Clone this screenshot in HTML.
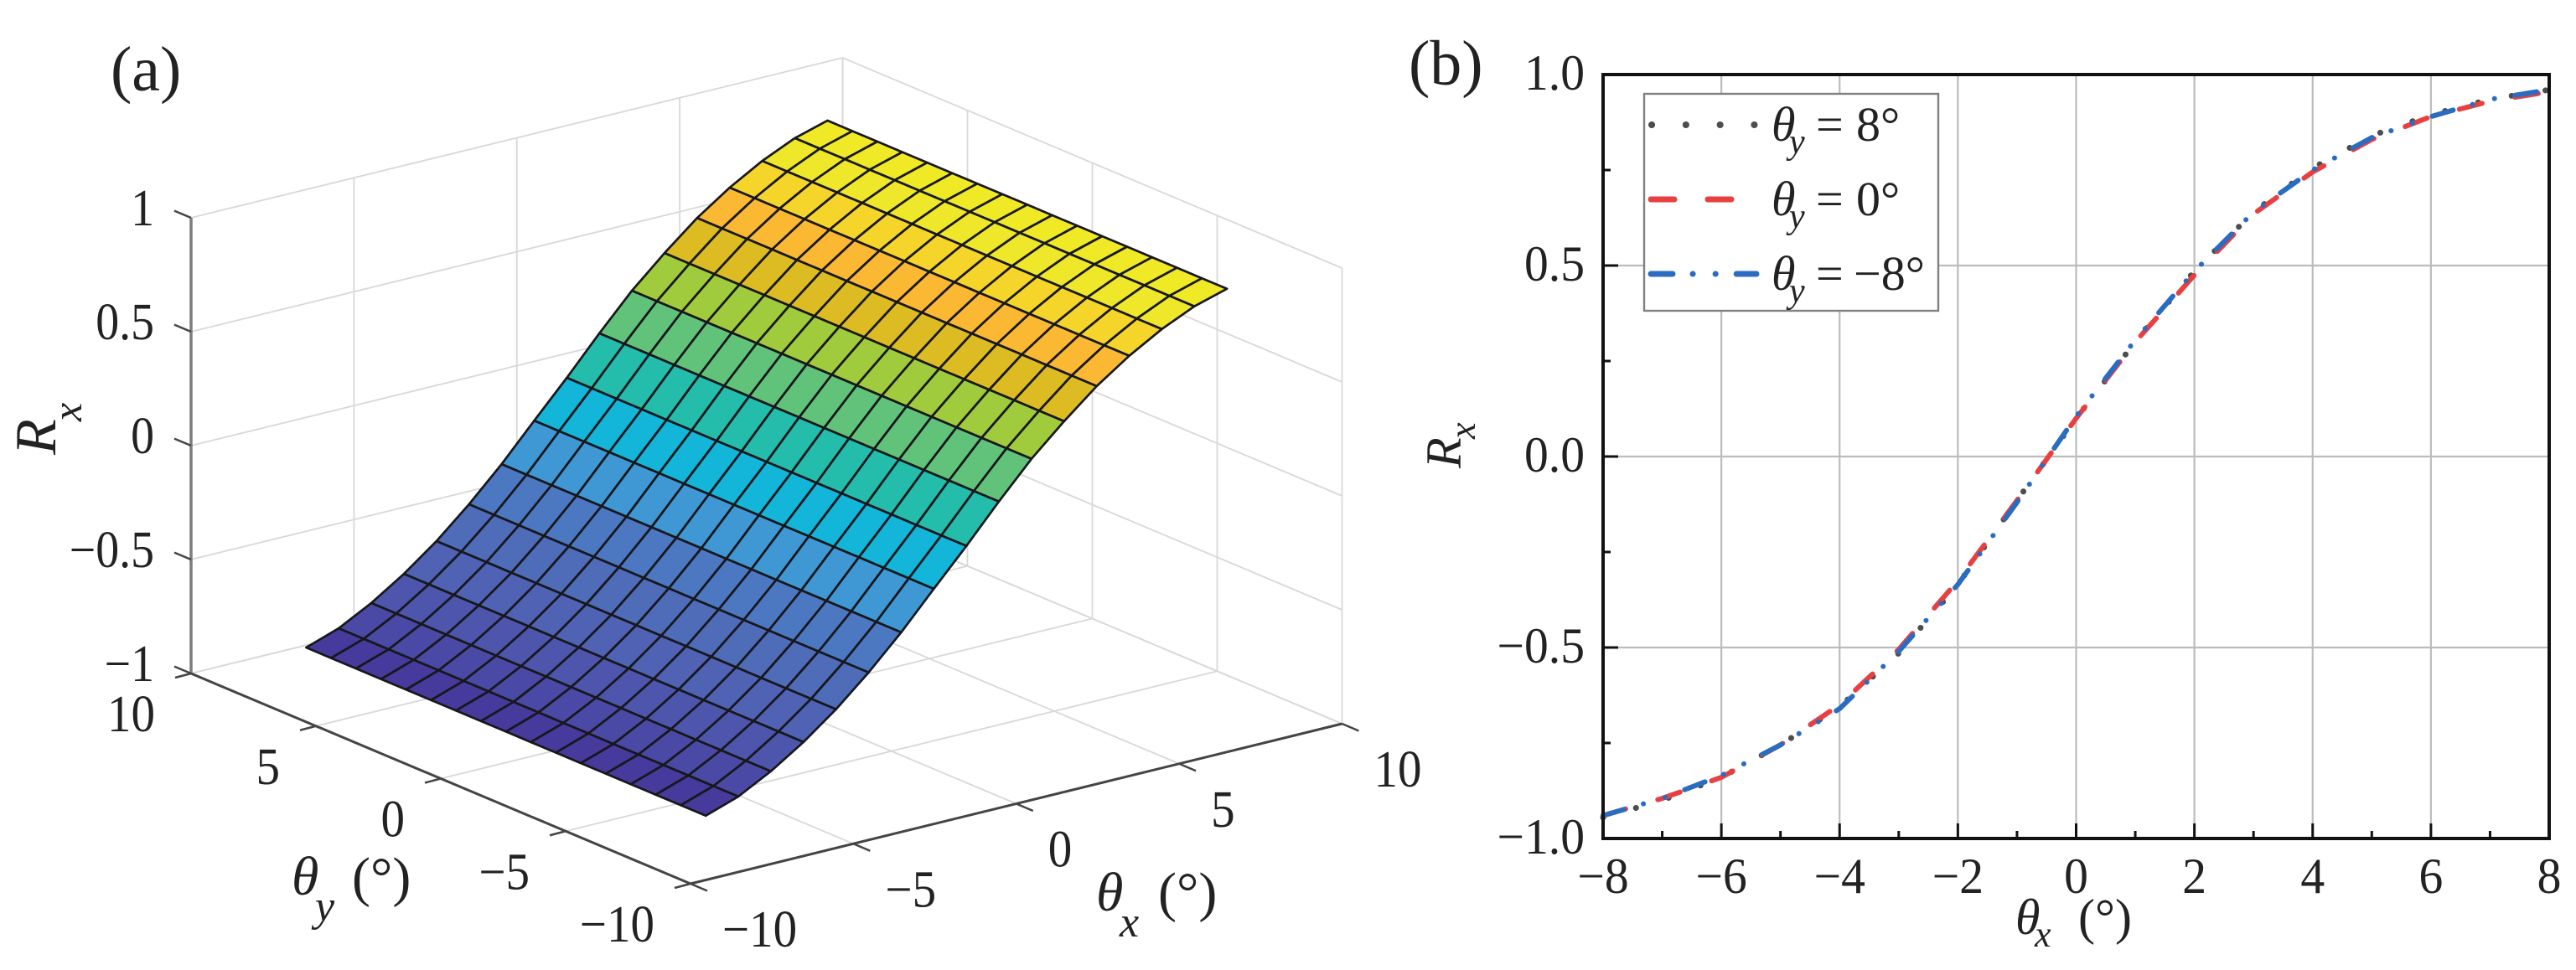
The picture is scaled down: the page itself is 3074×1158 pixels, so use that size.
<!DOCTYPE html>
<html lang="en">
<head>
<meta charset="utf-8">
<title>Rx surface and curves</title>
<style>
html,body{margin:0;padding:0;background:#fff;}
svg{display:block;}
text{font-family:"Liberation Serif",serif;fill:#222;}
.it{font-style:italic;}
</style>
</head>
<body>
<svg id="fig" xmlns="http://www.w3.org/2000/svg" width="3074" height="1158" viewBox="0 0 3074 1158">
  <rect x="0" y="0" width="3074" height="1158" fill="#fff"/>
  <g id="panelA"></g>
  <g id="panelB"></g>

  <text x="132" y="108" font-size="76">(a)</text>
  <text x="1681" y="101" font-size="76">(b)</text>

  <g>
    <text class="it" x="0" y="0" font-size="70" transform="translate(66,543) rotate(-90)">R</text>
    <text class="it" x="0" y="0" font-size="50" transform="translate(97,503) rotate(-90)">x</text>
  </g>
  <g>
    <text class="it" x="348" y="1068" font-size="66">θ</text>
    <text class="it" x="376" y="1099" font-size="52">y</text>
    <text x="420" y="1069" font-size="66">(°)</text>
  </g>
  <g>
    <text class="it" x="1308" y="1087" font-size="66">θ</text>
    <text class="it" x="1336" y="1118" font-size="52">x</text>
    <text x="1382" y="1087" font-size="66">(°)</text>
  </g>
  <g>
    <text class="it" x="0" y="0" font-size="60" transform="translate(1743,559) rotate(-90)">R</text>
    <text class="it" x="0" y="0" font-size="44" transform="translate(1760,524) rotate(-90)">x</text>
  </g>
  <g>
    <text class="it" x="2405" y="1115" font-size="60">θ</text>
    <text class="it" x="2428" y="1130" font-size="44">x</text>
    <text x="2480" y="1115" font-size="60">(°)</text>
  </g>

  <g id="legend">
    <rect x="1962" y="112" width="351" height="259" fill="#fff" stroke="#808080" stroke-width="2.4"/>
    <g>
      <line x1="1971" y1="149" x2="2098" y2="149" stroke="#4d4d4d" stroke-width="8" stroke-linecap="round" stroke-dasharray="0.1 40.7"/>
      <text class="it" x="2114" y="168" font-size="58">θ</text>
      <text class="it" x="2135" y="183" font-size="42">y</text>
      <text x="2167" y="168" font-size="58">=</text>
      <text x="2215" y="168" font-size="58">8°</text>
    </g>
    <g>
      <line x1="1970" y1="238" x2="2068" y2="238" stroke="#e84040" stroke-width="7" stroke-linecap="round" stroke-dasharray="28 40"/>
      <text class="it" x="2114" y="257" font-size="58">θ</text>
      <text class="it" x="2135" y="272" font-size="42">y</text>
      <text x="2167" y="257" font-size="58">=</text>
      <text x="2215" y="257" font-size="58">0°</text>
    </g>
    <g>
      <line x1="1970" y1="327" x2="2096" y2="327" stroke="#2a6cc0" stroke-width="7" stroke-linecap="round" stroke-dasharray="26 24 0.1 27 0.1 25"/>
      <text class="it" x="2114" y="346" font-size="58">θ</text>
      <text class="it" x="2135" y="361" font-size="42">y</text>
      <text x="2167" y="346" font-size="58">=</text>
      <text x="2212" y="346" font-size="58">−8°</text>
    </g>
  </g>
</svg>

<script>
// ---------- Panel (a) data ----------
const surfaceThetaX = [-8,-7,-6,-5,-4,-3,-2,-1,0,1,2,3,4,5,6,7,8];
const surfaceThetaY = [8,7,6,5,4,3,2,1,0,-1,-2,-3,-4,-5,-6,-7,-8];
const surfaceZ = [-0.864,-0.815,-0.739,-0.646,-0.5375,-0.411,-0.27,-0.114,0.039,0.199,0.351,0.481,0.60,0.698,0.78,0.845,0.887];
const surfaceBandColors = ['#463b9c','#4a4aa6','#4d56ac','#4f62b3','#4f6cb9','#4c78c2','#3f98d3','#13b5d8','#24bcab','#61c37a','#a0cb3c','#dcbc22','#fbb833','#f6d52b','#efe729','#f0e926'];
const ticks3dXY = [-10,-5,0,5,10];
const ticks3dZ = [-1,-0.5,0,0.5,1];
const ticks3dZLabels = ['−1','−0.5','0','0.5','1'];
const ticks3dXLabels = ['−10','−5','0','5','10'];
const ticks3dYLabels = ['−10','−5','0','5','10'];

// ---------- Panel (b) data ----------
const curveThetaX = [-8,-7,-6,-5,-4,-3,-2,-1,0,1,2,3,4,5,6,7,8];
const curveRxPos8 = [-0.945,-0.90,-0.84,-0.755,-0.655,-0.515,-0.335,-0.115,0.10,0.30,0.485,0.64,0.755,0.84,0.895,0.935,0.96];
const curveRxZero = [-0.94,-0.895,-0.84,-0.755,-0.65,-0.505,-0.325,-0.115,0.10,0.30,0.475,0.635,0.745,0.83,0.89,0.93,0.955];
const curveRxNeg8 = [-0.94,-0.895,-0.835,-0.755,-0.66,-0.51,-0.335,-0.12,0.105,0.305,0.485,0.64,0.75,0.835,0.89,0.935,0.96];
const xMajorTicks = [-8,-6,-4,-2,0,2,4,6,8];
const xMajorLabels = ['−8','−6','−4','−2','0','2','4','6','8'];
const xMinorTicks = [-7,-5,-3,-1,1,3,5,7];
const yMajorTicks = [-1,-0.5,0,0.5,1];
const yMajorLabels = ['−1.0','−0.5','0.0','0.5','1.0'];
const yMinorTicks = [-0.75,-0.25,0.25,0.75];

const NS = 'http://www.w3.org/2000/svg';
function mk(tag, attrs, parent){
  const el = document.createElementNS(NS, tag);
  for (const k in attrs) el.setAttribute(k, attrs[k]);
  parent.appendChild(el);
  return el;
}
// condensed numeric label, anchored at (x,y)
function numLabel(x, y, size, sx_, anchor, str, parent){
  const t = mk('text', {x:0, y:0, 'font-size':size, 'text-anchor':anchor,
    transform:'translate(' + x.toFixed(1) + ',' + y.toFixed(1) + ') scale(' + sx_ + ',1)'}, parent);
  t.textContent = str;
  return t;
}

// ---------- Panel (a) ----------
const A = document.getElementById('panelA');
function proj(tx, ty, z){
  return [
    228 + (10 - ty) * 29.8 + (tx + 10) * 38.875,
    804 + (10 - ty) * 12.55 - (tx + 10) * 9.55 - (z + 1) * 272
  ];
}
function seg3d(p, q, stroke, w, name){
  const el = mk('line', {x1:p[0], y1:p[1], x2:q[0], y2:q[1], stroke:stroke, 'stroke-width':w}, A);
  
  
  return el;
}
const gridCol = '#d8d8d8';
ticks3dZ.forEach(function(z){
  seg3d(proj(-10,10,z), proj(10,10,z), gridCol, 1.8, 'back-wall-gridline');
  seg3d(proj(10,10,z), proj(10,-10,z), gridCol, 1.8, 'side-wall-gridline');
});
ticks3dXY.forEach(function(v){
  seg3d(proj(v,10,-1), proj(v,10,1), gridCol, 1.8, 'back-wall-vertical-gridline');
  seg3d(proj(10,v,-1), proj(10,v,1), gridCol, 1.8, 'side-wall-vertical-gridline');
  seg3d(proj(v,-10,-1), proj(v,10,-1), gridCol, 1.8, 'floor-gridline-x');
  seg3d(proj(-10,v,-1), proj(10,v,-1), gridCol, 1.8, 'floor-gridline-y');
});

// axes edges
seg3d(proj(-10,10,-1), proj(-10,10,1), '#7d7d7d', 3.5, 'z-axis-line');
seg3d(proj(-10,10,-1), proj(-10,-10,-1), '#444', 3, 'y-axis-line-3d');
seg3d(proj(-10,-10,-1), proj(10,-10,-1), '#444', 3, 'x-axis-line-3d');

// ticks and labels
ticks3dZ.forEach(function(z, i){
  const p = proj(-10,10,z);
  seg3d([p[0]-20,p[1]-8.4], p, '#444', 2.5, 'z-axis-tick');
  const t = numLabel(184, p[1]+9, 62, 0.9, 'end', ticks3dZLabels[i], A);
  
  
});
ticks3dXY.forEach(function(v, i){
  const p = proj(-10,v,-1);
  seg3d([p[0]-19,p[1]+5], p, '#444', 2.5, 'y-axis-tick-3d');
  const t = numLabel(p[0]-43, p[1]+69, 62, 0.92, 'end', ticks3dYLabels[i], A);
  
  
});
ticks3dXY.forEach(function(v, i){
  const p = proj(v,-10,-1);
  seg3d(p, [p[0]+20,p[1]+8.5], '#444', 2.5, 'x-axis-tick-3d');
  const t = numLabel(p[0]+38, p[1]+75, 62, 0.92, 'start', ticks3dXLabels[i], A);
  
  
});

// surface mesh
const surfaceGroup = mk('g', {}, A);


for (let i = surfaceThetaX.length - 2; i >= 0; i--){
  for (let j = 0; j < surfaceThetaY.length - 1; j++){
    const a = proj(surfaceThetaX[i], surfaceThetaY[j], surfaceZ[i]);
    const b = proj(surfaceThetaX[i+1], surfaceThetaY[j], surfaceZ[i+1]);
    const c = proj(surfaceThetaX[i+1], surfaceThetaY[j+1], surfaceZ[i+1]);
    const d = proj(surfaceThetaX[i], surfaceThetaY[j+1], surfaceZ[i]);
    const cell = mk('polygon', {
      points: [a,b,c,d].map(function(p){return p[0].toFixed(1)+','+p[1].toFixed(1);}).join(' '),
      fill: surfaceBandColors[i], stroke:'#17171c', 'stroke-width':2.7, 'stroke-linejoin':'round'
    }, surfaceGroup);
    
    
  }
}

// ---------- Panel (b) ----------
const B = document.getElementById('panelB');
const L = 1913, R = 3042, T = 89, Bt = 1001;
function sx(v){ return L + (v + 8) / 16 * (R - L); }
function sy(v){ return Bt - (v + 1) / 2 * (Bt - T); }

xMajorTicks.forEach(function(v){
  const g = mk('line', {x1:sx(v), y1:T, x2:sx(v), y2:Bt, stroke:'#bcbcbc', 'stroke-width':2.2}, B);
  
  
});
yMajorTicks.forEach(function(v){
  const g = mk('line', {x1:L, y1:sy(v), x2:R, y2:sy(v), stroke:'#bcbcbc', 'stroke-width':2.2}, B);
  
  
});

function curvePath(vals){
  return vals.map(function(v,i){
    return (i ? 'L' : 'M') + sx(curveThetaX[i]).toFixed(1) + ' ' + sy(v).toFixed(1);
  }).join(' ');
}
const c8 = mk('path', {d:curvePath(curveRxPos8), fill:'none', stroke:'#4d4d4d', 'stroke-width':7, 'stroke-linecap':'round', 'stroke-dasharray':'0.1 40.7'}, B);


const c0 = mk('path', {d:curvePath(curveRxZero), fill:'none', stroke:'#e84040', 'stroke-width':6, 'stroke-linecap':'round', 'stroke-dasharray':'28 40'}, B);


const cm = mk('path', {d:curvePath(curveRxNeg8), fill:'none', stroke:'#2a6cc0', 'stroke-width':6, 'stroke-linecap':'round', 'stroke-dasharray':'26 24 0.1 27 0.1 25'}, B);



xMajorTicks.forEach(function(v, i){
  const m = mk('line', {x1:sx(v), y1:Bt, x2:sx(v), y2:Bt-18, stroke:'#111', 'stroke-width':3}, B);
  
  
  const t = numLabel(sx(v), 1066, 60, 0.96, 'middle', xMajorLabels[i], B);
  
  
});
xMinorTicks.forEach(function(v){
  const m = mk('line', {x1:sx(v), y1:Bt, x2:sx(v), y2:Bt-9, stroke:'#111', 'stroke-width':3}, B);
  
  
});
yMajorTicks.forEach(function(v, i){
  const m = mk('line', {x1:L, y1:sy(v), x2:L+18, y2:sy(v), stroke:'#111', 'stroke-width':3}, B);
  
  
  const t = numLabel(1891, sy(v)+18, 60, 0.96, 'end', yMajorLabels[i], B);
  
  
});
yMinorTicks.forEach(function(v){
  const m = mk('line', {x1:L, y1:sy(v), x2:L+9, y2:sy(v), stroke:'#111', 'stroke-width':3}, B);
  
  
});
const frame = mk('rect', {x:L, y:T, width:R-L, height:Bt-T, fill:'none', stroke:'#111', 'stroke-width':4}, B);


</script>
</body>
</html>
